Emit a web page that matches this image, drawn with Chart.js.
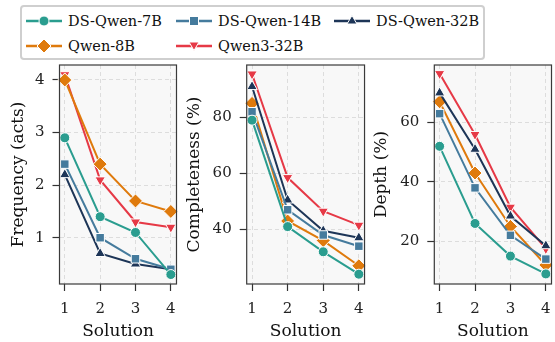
<!DOCTYPE html>
<html>
<head>
<meta charset="utf-8">
<script src="https://cdn.jsdelivr.net/npm/chart.js@4.4.1/dist/chart.umd.min.js"></script>
<style>
  body { margin: 0; width: 555px; height: 342px; overflow: hidden; background: #fff; position: relative; font-family: "DejaVu Serif", serif; }
  canvas { position: absolute; top: 0; }
  #legend { position: absolute; left: 20px; top: 5px; width: 461px; height: 51px; border: 2px solid #cfcfcf; border-radius: 4px; background: #fff; }
  .item { position: absolute; display: flex; align-items: center; font-size: 14.5px; color: #111; white-space: nowrap; }
  .item svg { margin-right: 6px; flex: none; }
</style>
</head>
<body>
<div id="legend"></div>
<canvas id="c1"></canvas>
<canvas id="c2"></canvas>
<canvas id="c3"></canvas>
<script>
const solutions = [1, 2, 3, 4];
const modelNames = ['DS-Qwen-7B', 'DS-Qwen-14B', 'DS-Qwen-32B', 'Qwen-8B', 'Qwen3-32B'];

// values per model, same order as modelNames
const frequencyActs = [
  [2.9, 1.4, 1.1, 0.3],
  [2.4, 1.0, 0.6, 0.4],
  [2.2, 0.7, 0.5, 0.4],
  [4.0, 2.4, 1.7, 1.5],
  [4.1, 2.1, 1.3, 1.2]
];
const completenessPct = [
  [79, 41, 32, 24],
  [82, 47, 38, 34],
  [91, 50.5, 39.5, 37],
  [85, 43, 36, 27],
  [95.5, 58.5, 46.5, 41.5]
];
const depthPct = [
  [52, 26, 15, 9],
  [63, 38, 22, 14],
  [70, 51, 28.5, 18.5],
  [67, 43, 25, 12],
  [76.5, 56, 31.5, 17.5]
];

const freqTicks = [1, 2, 3, 4];
const complTicks = [40, 60, 80];
const depthTicks = [20, 40, 60];

const colors = ['#2a9d8f', '#457b9d', '#1d3557', '#df7a0c', '#e63946'];
const shapes = ['circle', 'rect', 'triangle', 'rectRot', 'triangle'];
const rotations = [0, 0, 0, 0, 180];
const radii = [5, 6, 6, 7, 6];

const FONT = '"DejaVu Serif", serif';

// legend, drawn as html
const legendPos = [[4, 6], [154, 6], [312, 6], [4, 31], [154, 31]];
function markerSvg(i) {
  const c = colors[i];
  let m = '';
  if (i === 0) m = `<circle cx="18" cy="8" r="5" fill="${c}" stroke="#fff" stroke-width="1"/>`;
  if (i === 1) m = `<rect x="13.5" y="3.5" width="9" height="9" fill="${c}" stroke="#fff" stroke-width="1"/>`;
  if (i === 2) m = `<polygon points="18,2.5 23,11 13,11" fill="${c}" stroke="#fff" stroke-width="1"/>`;
  if (i === 3) m = `<polygon points="18,1 25,8 18,15 11,8" fill="${c}" stroke="#fff" stroke-width="1"/>`;
  if (i === 4) m = `<polygon points="13,4 23,4 18,12.5" fill="${c}" stroke="#fff" stroke-width="1"/>`;
  return `<svg width="36" height="16"><line x1="0" y1="8" x2="36" y2="8" stroke="${c}" stroke-width="2.5"/>${m}</svg>`;
}
const legend = document.getElementById('legend');
modelNames.forEach((n, i) => {
  const d = document.createElement('div');
  d.className = 'item';
  d.style.left = legendPos[i][0] + 'px';
  d.style.top = legendPos[i][1] + 'px';
  d.innerHTML = markerSvg(i) + '<span>' + n + '</span>';
  legend.appendChild(d);
});

// plot background and frame
const framePlugin = {
  id: 'frame',
  beforeDraw(chart) {
    const { ctx, chartArea: a } = chart;
    ctx.save();
    ctx.fillStyle = '#f8f8f8';
    ctx.fillRect(a.left, a.top, a.width, a.height);
    ctx.restore();
  },
  afterDatasetsDraw(chart) {
    const { ctx, chartArea: a } = chart;
    ctx.save();
    ctx.strokeStyle = '#3a3a3a';
    ctx.lineWidth = 1.2;
    ctx.strokeRect(a.left, a.top, a.width, a.height);
    ctx.restore();
  }
};

function makeChart(id, left, width, axisWidth, padRight, values, title, yMin, yMax, yTicks) {
  const cv = document.getElementById(id);
  cv.style.left = left + 'px';
  cv.width = width;
  cv.height = 342;
  cv.style.width = width + 'px';
  cv.style.height = '342px';

  const gridCommon = {
    color: '#dddddd',
    lineWidth: 1,
    tickColor: '#333',
    tickLength: 7,
    tickWidth: 1.2,
    tickBorderDash: []
  };

  new Chart(cv, {
    type: 'line',
    data: {
      datasets: values.map((vals, i) => ({
        label: modelNames[i],
        data: solutions.map((s, k) => ({ x: s, y: vals[k] })),
        borderColor: colors[i],
        backgroundColor: colors[i],
        borderWidth: 2,
        pointStyle: shapes[i],
        pointRotation: rotations[i],
        pointRadius: radii[i],
        pointBorderColor: '#fff',
        pointBorderWidth: 1,
        tension: 0,
        clip: false
      }))
    },
    options: {
      responsive: false,
      animation: false,
      events: [],
      layout: { padding: { top: 65, right: padRight, left: 0, bottom: 0 } },
      plugins: { legend: { display: false }, tooltip: { enabled: false } },
      scales: {
        x: {
          type: 'linear',
          min: 0.85,
          max: 4.16,
          afterBuildTicks: s => { s.ticks = solutions.map(v => ({ value: v })); },
          afterFit: s => { s.height = 58; },
          grid: gridCommon,
          border: { display: false, dash: [4, 3] },
          ticks: { font: { family: FONT, size: 15 }, color: '#222', padding: 9, maxRotation: 0 },
          title: { display: true, text: 'Solution', font: { family: FONT, size: 17 }, color: '#111', padding: 0 }
        },
        y: {
          min: yMin,
          max: yMax,
          afterBuildTicks: s => { s.ticks = yTicks.map(v => ({ value: v })); },
          afterFit: s => { s.width = axisWidth; },
          grid: gridCommon,
          border: { display: false, dash: [4, 3] },
          ticks: { font: { family: FONT, size: 15 }, color: '#222', padding: 8 },
          title: { display: true, text: title, font: { family: FONT, size: 17 }, color: '#111', padding: 0 }
        }
      }
    },
    plugins: [framePlugin]
  });
}

makeChart('c1', 8, 177, 51.5, 4, frequencyActs, 'Frequency (acts)', 0.12, 4.285, freqTicks);
makeChart('c2', 184, 189, 62.7, 4.3, completenessPct, 'Completeness (%)', 20.5, 98.7, complTicks);
makeChart('c3', 371, 189, 63.3, 4, depthPct, 'Depth (%)', 5.6, 79.4, depthTicks);
</script>
</body>
</html>
